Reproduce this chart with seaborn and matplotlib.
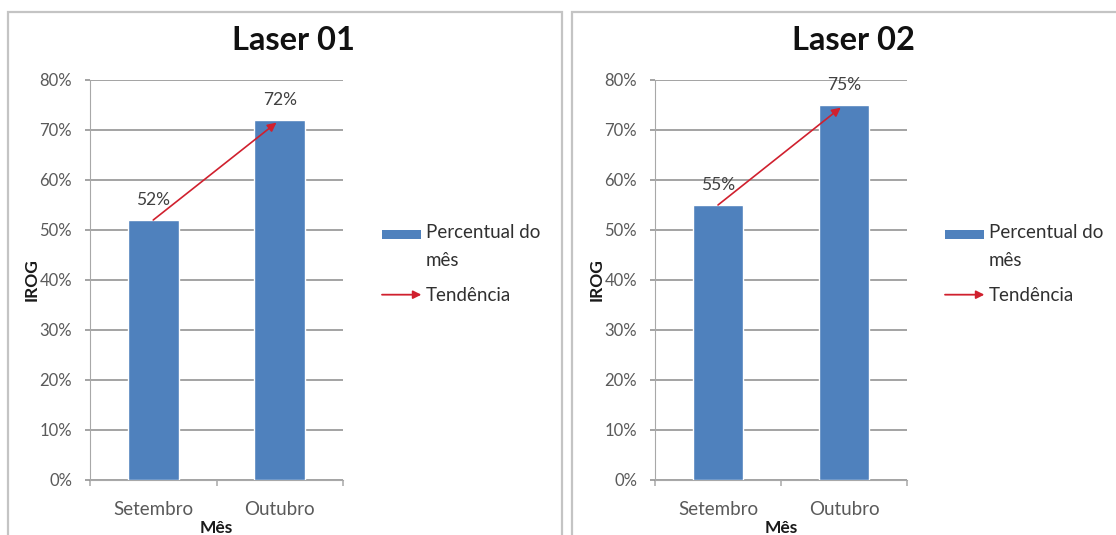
import matplotlib
matplotlib.use("Agg")
import matplotlib.pyplot as plt
import seaborn as sns
from matplotlib.patches import Patch, Rectangle, FancyArrowPatch
from matplotlib.legend_handler import HandlerBase
from matplotlib.ticker import FixedLocator

# ---- data ----
categories = ["Setembro", "Outubro"]
laser01_values = [52, 72]
laser02_values = [55, 75]
titles = ["Laser 01", "Laser 02"]
y_ticks = [0, 10, 20, 30, 40, 50, 60, 70, 80]
x_label = "Mês"
y_label = "IROG"
legend_labels = ["Percentual do\nmês", "Tendência"]

sns.set_style("white")
plt.rcParams["font.family"] = ["Lato", "DejaVu Sans"]

BLUE = "#4F81BD"
RED = "#D0202E"
GRID = "#8A8A8A"
TICKC = "#5A5A5A"

W, H = 1116, 535
fig = plt.figure(figsize=(W / 100, H / 100), dpi=100)


class ArrowHandle:
    pass


class HandlerArrow(HandlerBase):
    def create_artists(self, legend, orig_handle, xdescent, ydescent,
                       width, height, fontsize, trans):
        y = height / 2 - ydescent
        p = FancyArrowPatch((-xdescent, y), (-xdescent + width, y),
                            arrowstyle="-|>", mutation_scale=12,
                            color=RED, lw=1.3, shrinkA=0, shrinkB=0,
                            transform=trans)
        return [p]


class HandlerPatchTop(HandlerBase):
    """Patch handle aligned with the first line of a wrapped label."""
    def create_artists(self, legend, orig_handle, xdescent, ydescent,
                       width, height, fontsize, trans):
        r = Rectangle((-xdescent, -ydescent + 10), width, height * 0.75,
                      facecolor=orig_handle.get_facecolor(),
                      edgecolor="none", transform=trans)
        return [r]


def px(x0, y0, w, h):
    return [x0 / W, 1 - (y0 + h) / H, w / W, h / H]


panels = [
    dict(vals=laser01_values, title=titles[0], ax=(90, 80, 253, 400),
         border=(8, 12, 554, 600), title_x=293, leg_x=382),
    dict(vals=laser02_values, title=titles[1], ax=(655, 80, 252, 400),
         border=(572, 12, 600, 600), title_x=853, leg_x=945),
]

for p in panels:
    bx, by, bw, bh = p["border"]
    fig.patches.append(Rectangle((bx / W, 1 - (by + bh) / H), bw / W, bh / H,
                                 transform=fig.transFigure, fill=False,
                                 edgecolor="#C4C4C4", lw=1.6, zorder=0))
    ax = fig.add_axes(px(*p["ax"]))
    sns.barplot(x=categories, y=p["vals"], ax=ax, color=BLUE, width=0.4,
                saturation=1, zorder=3)
    ax.set_xlim(-0.5, 1.5)
    ax.set_ylim(0, 80)
    ax.set_yticks(y_ticks)
    ax.set_yticklabels([f"{t}%" for t in y_ticks])
    ax.yaxis.grid(True, color=GRID, lw=1.1, zorder=0)
    ax.set_axisbelow(True)
    for s in ["top", "right"]:
        ax.spines[s].set_visible(False)
    ax.spines["left"].set_color("#A8A8A8")
    ax.spines["bottom"].set_color("#A8A8A8")
    ax.tick_params(axis="y", direction="out", length=3.8, color=GRID,
                   width=1.1, pad=9, labelsize=12, labelcolor=TICKC, left=True)
    ax.tick_params(axis="x", which="major", length=0, pad=15, labelsize=13.5,
                   labelcolor=TICKC)
    ax.xaxis.set_minor_locator(FixedLocator([-0.5, 0.5, 1.5]))
    ax.tick_params(axis="x", which="minor", direction="out", length=4.5,
                   color="#A8A8A8", width=1.1, bottom=True)
    ax.set_xlabel(x_label, fontsize=12.5, fontweight="bold", labelpad=1.5,
                  color="#1A1A1A")
    ax.set_ylabel(y_label, fontsize=12.5, fontweight="bold", labelpad=0,
                  color="#1A1A1A")

    for i, v in enumerate(p["vals"]):
        ax.annotate(f"{v}%", xy=(i, v), xytext=(0, 14.5),
                    textcoords="offset points", ha="center", va="center",
                    fontsize=12.5, color="#404040", zorder=5)

    ax.annotate("", xy=(1, p["vals"][1]), xytext=(0, p["vals"][0]),
                arrowprops=dict(arrowstyle="-|>", color=RED, lw=1.2,
                                shrinkA=0, shrinkB=3, mutation_scale=13),
                zorder=6)

    fig.text(p["title_x"] / W, 1 - 41 / H, p["title"], ha="center",
             va="center", fontsize=23.5, fontweight="bold", color="#111111")

    handles = [Patch(facecolor=BLUE, edgecolor="none"), ArrowHandle()]
    leg = fig.legend(handles, legend_labels,
                     handler_map={ArrowHandle: HandlerArrow(),
                                  Patch: HandlerPatchTop()},
                     loc="upper left",
                     bbox_to_anchor=(p["leg_x"] / W, 1 - 224 / H),
                     frameon=False, borderpad=0, borderaxespad=0,
                     fontsize=13.5, handlelength=2.1, handletextpad=0.25,
                     labelspacing=1.0, labelcolor="#303030")
    for t in leg.get_texts():
        t.set_linespacing(1.75)

fig.savefig("out.png", dpi=100, facecolor="white")
